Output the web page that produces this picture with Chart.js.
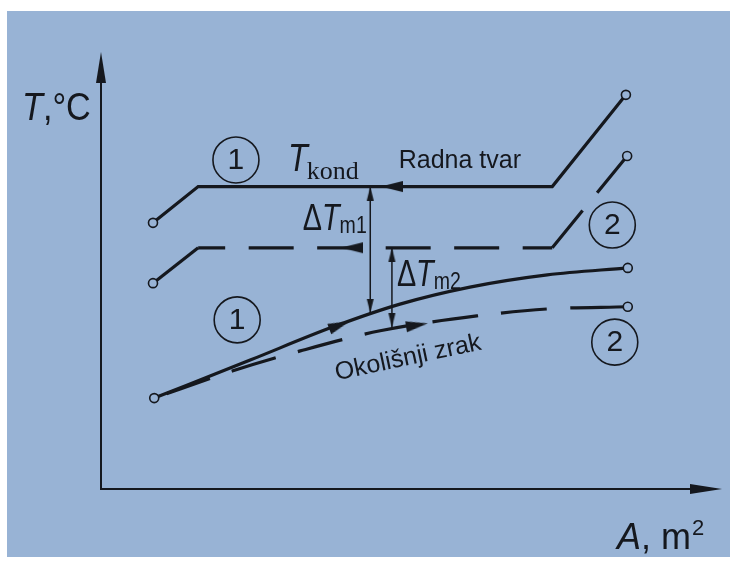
<!DOCTYPE html>
<html>
<head>
<meta charset="utf-8">
<script src="https://cdn.jsdelivr.net/npm/chart.js@4.4.1/dist/chart.umd.min.js"></script>
<style>
  html, body { margin: 0; padding: 0; background: #ffffff; }
  #wrap { width: 730px; height: 562px; }
</style>
</head>
<body>
<div id="wrap"><canvas id="graf" width="730" height="562"></canvas></div>
<script>
// ===== podaci (A i T u relativnim jedinicama 0-10) =====
// radna tvar (kondenzacija) - 1 puna, 2 crtkana
const radnaA1 = [0.84, 1.57, 7.29, 8.48];
const radnaT1 = [6.09, 6.92, 6.92, 9.02];
const radnaA2 = [0.84, 1.57, 7.29, 8.50];
const radnaT2 = [4.71, 5.52, 5.52, 7.62];
// okolisnji zrak - 1 puna, 2 crtkana
const zrakA1 = [0.86, 2.41, 3.75, 4.83, 5.96, 7.21, 8.51];
const zrakT1 = [2.08, 2.95, 3.71, 4.23, 4.62, 4.90, 5.06];
const zrakA2 = [0.86, 2.12, 3.22, 4.51, 6.07, 7.21, 8.51];
const zrakT2 = [2.08, 2.70, 3.16, 3.62, 3.96, 4.12, 4.17];
// strelice smjera toka (vrh strelice) i kut u stupnjevima
const strelA = [4.52, 3.88, 4.02, 5.28];
const strelT = [6.92, 5.52, 3.84, 3.79];
const strelKut = [180, 180, -21, -9];
// srednje temperaturne razlike
const dTm1A = [4.35, 4.35];
const dTm1T = [6.92, 4.03];
const dTm2A = [4.70, 4.70];
const dTm2T = [5.52, 3.70];
// zaokruzene oznake
const oznakaA = [2.18, 8.26, 2.20, 8.30];
const oznakaT = [7.53, 6.04, 3.87, 3.36];
const oznakaTekst = ['1', '2', '1', '2'];

const bojaPozadine = '#98b3d5';
const crna = '#15181e';

function tocke(xs, ys) {
    return xs.map((x, i) => ({ x: x, y: ys[i] }));
}

// strelica kojoj je vrh u sredini platna (tako je tocka = vrh)
function strelica(duz, pola) {
    const c = document.createElement('canvas');
    c.width = duz * 2;
    c.height = pola * 2 + 2;
    const g = c.getContext('2d');
    g.fillStyle = crna;
    g.beginPath();
    g.moveTo(duz, c.height / 2);
    g.lineTo(0, c.height / 2 - pola);
    g.lineTo(0, c.height / 2 + pola);
    g.closePath();
    g.fill();
    return c;
}
const velikaStrelica = strelica(22, 5.5);
const malaStrelica = strelica(14, 3.5);

// krajnje tocke krivulja (kruzici)
const krajevi = [
    [radnaA1[0], radnaT1[0]], [radnaA1[radnaA1.length - 1], radnaT1[radnaT1.length - 1]],
    [radnaA2[0], radnaT2[0]], [radnaA2[radnaA2.length - 1], radnaT2[radnaT2.length - 1]],
    [zrakA1[0], zrakT1[0]], [zrakA1[zrakA1.length - 1], zrakT1[zrakT1.length - 1]],
    [zrakA2[zrakA2.length - 1], zrakT2[zrakT2.length - 1]]
].map(p => ({ x: p[0], y: p[1] }));

// ===== pozadina (fotografija papira) =====
const pozadina = {
    id: 'pozadina',
    beforeDraw: (chart) => {
        const ctx = chart.ctx;
        ctx.save();
        ctx.fillStyle = '#ffffff';
        ctx.fillRect(0, 0, chart.width, chart.height);
        ctx.fillStyle = bojaPozadine;
        ctx.fillRect(7, 11, chart.width - 7, 546);
        ctx.restore();
    }
};

// ===== osi sa strelicama =====
const osi = {
    id: 'osi',
    beforeDatasetsDraw: (chart) => {
        const ctx = chart.ctx;
        const a = chart.chartArea;
        ctx.save();
        ctx.strokeStyle = crna;
        ctx.fillStyle = crna;
        ctx.lineWidth = 2;
        ctx.beginPath();
        ctx.moveTo(a.left, a.top + 20);
        ctx.lineTo(a.left, a.bottom);
        ctx.lineTo(a.right - 20, a.bottom);
        ctx.stroke();
        // strelica y
        ctx.beginPath();
        ctx.moveTo(a.left, a.top);
        ctx.lineTo(a.left - 5, a.top + 31);
        ctx.lineTo(a.left + 5, a.top + 31);
        ctx.closePath();
        ctx.fill();
        // strelica x
        ctx.beginPath();
        ctx.moveTo(a.right + 2, a.bottom);
        ctx.lineTo(a.right - 30, a.bottom - 5);
        ctx.lineTo(a.right - 30, a.bottom + 5);
        ctx.closePath();
        ctx.fill();
        ctx.restore();
    }
};

function pisi(ctx, s, x, y, font, sx) {
    ctx.save();
    ctx.translate(x, y);
    ctx.scale(sx, 1);
    ctx.font = font;
    ctx.fillText(s, 0, 0);
    const w = ctx.measureText(s).width * sx;
    ctx.restore();
    return w;
}

// ===== natpisi =====
const natpisi = {
    id: 'natpisi',
    afterDatasetsDraw: (chart) => {
        const ctx = chart.ctx;
        const a = chart.chartArea;
        const sx = chart.scales.x;
        const sy = chart.scales.y;
        const px = v => sx.getPixelForValue(v);
        const py = v => sy.getPixelForValue(v);
        ctx.save();
        ctx.fillStyle = crna;
        ctx.textBaseline = 'alphabetic';
        ctx.textAlign = 'left';

        // naziv osi y
        let x = a.left - 79, y = a.top + 68;
        x += pisi(ctx, 'T', x, y, 'italic 38px "Liberation Sans"', 0.9);
        pisi(ctx, ',°C', x, y, '38px "Liberation Sans"', 0.9);

        // naziv osi x
        x = a.right - 103; y = a.bottom + 60;
        x += pisi(ctx, 'A', x, y, 'italic 36px "Liberation Sans"', 1);
        x += pisi(ctx, ', m', x, y, '36px "Liberation Sans"', 1);
        pisi(ctx, '2', x + 1, y - 14, '22px "Liberation Sans"', 1);

        // T_kond
        x = px(3.02); y = py(7.28);
        x += pisi(ctx, 'T', x, y, 'italic 38px "Liberation Sans"', 0.85);
        pisi(ctx, 'kond', x - 1, y + 8, '26px "Liberation Serif"', 1);

        pisi(ctx, 'Radna tvar', px(4.81), py(7.35), '25px "Liberation Sans"', 1);

        // delta T m1, m2
        [[3.26, 5.93, 'm1'], [4.78, 4.645, 'm2']].forEach(d => {
            let xx = px(d[0]);
            const yy = py(d[1]);
            xx += pisi(ctx, '\u0394', xx, yy, '36px "Liberation Sans"', 0.8);
            xx += pisi(ctx, 'T', xx, yy, 'italic 36px "Liberation Sans"', 0.8);
            pisi(ctx, d[2], xx, yy + 3, '23px "Liberation Sans"', 0.85);
        });

        // okolisnji zrak (koso)
        ctx.save();
        ctx.translate(px(3.81), py(2.49));
        ctx.rotate(-12 * Math.PI / 180);
        ctx.font = '25px "Liberation Sans"';
        ctx.fillText('Okolišnji zrak', 0, 0);
        ctx.restore();

        // brojevi u kruzicima
        ctx.textAlign = 'center';
        ctx.textBaseline = 'middle';
        ctx.font = '30px "Liberation Sans"';
        chart.getDatasetMeta(1).data.forEach((el, i) => {
            ctx.fillText(oznakaTekst[i], el.x, el.y + 1);
        });
        ctx.restore();
    }
};

const graf = new Chart(document.getElementById('graf'), {
    type: 'scatter',
    data: {
        datasets: [
            {
                label: 'krajevi',
                data: krajevi,
                pointRadius: 4.5,
                pointBackgroundColor: bojaPozadine,
                pointBorderColor: crna,
                pointBorderWidth: 1.6
            },
            {
                label: 'oznake',
                data: tocke(oznakaA, oznakaT),
                pointRadius: 23,
                pointBackgroundColor: 'rgba(0,0,0,0)',
                pointBorderColor: crna,
                pointBorderWidth: 1.6
            },
            {
                label: 'strelice',
                data: tocke(strelA, strelT),
                pointStyle: velikaStrelica,
                pointRadius: 5,
                pointRotation: (c) => strelKut[c.dataIndex]
            },
            {
                label: 'dTm1',
                data: tocke(dTm1A, dTm1T),
                showLine: true,
                borderColor: crna,
                borderWidth: 1.5,
                pointStyle: malaStrelica,
                pointRadius: 3,
                pointRotation: [-90, 90]
            },
            {
                label: 'dTm2',
                data: tocke(dTm2A, dTm2T),
                showLine: true,
                borderColor: crna,
                borderWidth: 1.5,
                pointStyle: malaStrelica,
                pointRadius: 3,
                pointRotation: [-90, 90]
            },
            {
                label: 'Radna tvar 1',
                data: tocke(radnaA1, radnaT1),
                showLine: true,
                borderColor: crna,
                borderWidth: 3.2,
                pointRadius: 0
            },
            {
                label: 'Radna tvar 2',
                data: tocke(radnaA2, radnaT2),
                showLine: true,
                borderColor: crna,
                borderWidth: 3.2,
                pointRadius: 0,
                segment: {
                    borderDash: (c) => c.p0DataIndex === 0 ? [] : (c.p0DataIndex === 1 ? [45, 23.5] : [48, 23]),
                    borderDashOffset: (c) => c.p0DataIndex === 1 ? 18 : 0
                }
            },
            {
                label: 'Okolišnji zrak 1',
                data: tocke(zrakA1, zrakT1),
                showLine: true,
                borderColor: crna,
                borderWidth: 3.2,
                pointRadius: 0,
                cubicInterpolationMode: 'monotone'
            },
            {
                label: 'Okolišnji zrak 2',
                data: tocke(zrakA2, zrakT2),
                showLine: true,
                borderColor: crna,
                borderWidth: 3.2,
                pointRadius: 0,
                cubicInterpolationMode: 'monotone',
                segment: {
                    borderDash: (c) => c.p0DataIndex === zrakA2.length - 2 ? [58, 23] : [46, 23],
                    borderDashOffset: (c) => c.p0DataIndex === zrakA2.length - 2 ? 58 : 56
                }
            }
        ]
    },
    options: {
        responsive: false,
        animation: false,
        devicePixelRatio: 1,
        events: [],
        layout: {
            autoPadding: false,
            padding: { left: 101, right: 10, top: 52, bottom: 73 }
        },
        plugins: {
            legend: { display: false },
            tooltip: { enabled: false }
        },
        scales: {
            x: { type: 'linear', min: 0, max: 10, display: false },
            y: { type: 'linear', min: 0, max: 10, display: false }
        }
    },
    plugins: [pozadina, osi, natpisi]
});
</script>
</body>
</html>
